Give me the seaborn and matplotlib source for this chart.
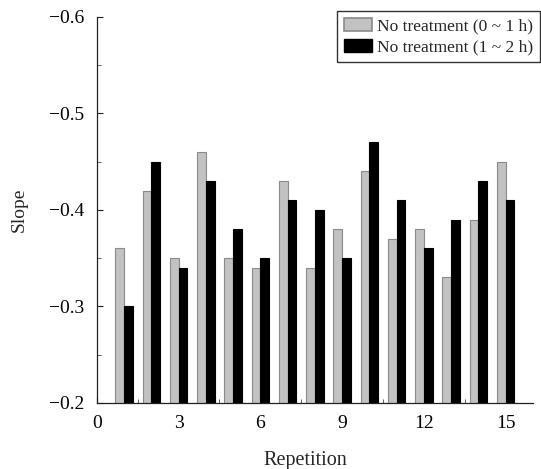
import numpy as np
import pandas as pd
import matplotlib
matplotlib.use("Agg")
import matplotlib.pyplot as plt
from matplotlib.patches import Patch
from matplotlib.ticker import MultipleLocator
import seaborn as sns

repetitions = list(range(1, 16))
slope_0_1h = [-0.36, -0.42, -0.35, -0.46, -0.35, -0.34, -0.43, -0.34, -0.38, -0.44,
              -0.37, -0.38, -0.33, -0.39, -0.45]
slope_1_2h = [-0.30, -0.45, -0.34, -0.43, -0.38, -0.35, -0.41, -0.40, -0.35, -0.47,
              -0.41, -0.36, -0.39, -0.43, -0.41]
series_labels = ["No treatment (0 ~ 1 h)", "No treatment (1 ~ 2 h)"]
y_ticks = [-0.2, -0.3, -0.4, -0.5, -0.6]
y_tick_labels = ["\u22120.2", "\u22120.3", "\u22120.4", "\u22120.5", "\u22120.6"]

df = pd.DataFrame({
    "Repetition": repetitions * 2,
    "Slope": slope_0_1h + slope_1_2h,
    "group": [series_labels[0]] * len(repetitions) + [series_labels[1]] * len(repetitions),
})

sns.set_style("ticks")
plt.rcParams["font.family"] = ["Liberation Serif", "DejaVu Serif"]

fig = plt.figure(figsize=(5.41, 4.69), dpi=100)
ax = fig.add_axes([0.179, 0.141, 0.806, 0.823])

gray = "#c2c2c2"
sns.barplot(data=df, x="Repetition", y="Slope", hue="group", hue_order=series_labels,
            native_scale=True, orient="x", palette=[gray, "#000000"], width=0.64,
            gap=0, errorbar=None, legend=False, ax=ax, linewidth=0.8)

edge_cols = ["#8a8a8a", "#000000"]
for cont, ec in zip(ax.containers, edge_cols):
    for p in cont.patches:
        p.set_edgecolor(ec)

ax.set_xlim(0, 16)
ax.set_ylim(-0.2, -0.6)
ax.xaxis.set_major_locator(MultipleLocator(3))
ax.xaxis.set_minor_locator(MultipleLocator(1.5))
ax.yaxis.set_minor_locator(MultipleLocator(0.05))
ax.set_yticks(y_ticks)
ax.set_yticklabels(y_tick_labels)
ax.tick_params(which="major", direction="in", length=4, width=0.8, labelsize=14,
               colors="#222222", labelcolor="black")
ax.tick_params(axis="y", which="major", pad=9)
ax.tick_params(axis="x", which="major", pad=9)
ax.tick_params(which="minor", direction="in", length=3, width=0.6, colors="#444444")
for s in ["top", "right"]:
    ax.spines[s].set_visible(False)
for s in ["left", "bottom"]:
    ax.spines[s].set_linewidth(0.9)
    ax.spines[s].set_color("#222222")

ax.set_xlabel("Repetition", fontsize=14.5)
ax.set_ylabel("Slope", fontsize=14)
ax.xaxis.set_label_coords(0.477, -0.125)
ax.yaxis.set_label_coords(-0.158, 0.5)

handles = [Patch(facecolor=gray, edgecolor=edge_cols[0], linewidth=1.2),
           Patch(facecolor="#000000", edgecolor="#000000")]
leg = fig.legend(handles, series_labels, loc="upper right", bbox_to_anchor=(0.999, 0.977),
                 frameon=True, fancybox=False, fontsize=12.5, handlelength=1.6,
                 handleheight=0.8, handletextpad=0.3, borderpad=0.4, labelspacing=0.25,
                 borderaxespad=0.0)
leg.get_frame().set_edgecolor("black")
leg.get_frame().set_linewidth(1.0)

fig.savefig("out.png", dpi=100)
